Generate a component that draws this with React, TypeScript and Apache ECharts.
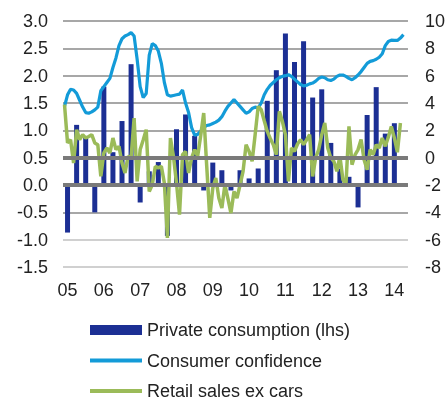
import React, { useEffect, useRef } from "react";
import * as echarts from "echarts";

// Monthly categories Jan 2005 .. Jun 2014
const START_YEAR = 2005;
const N_MONTHS = 114;
const months: string[] = [];
for (let i = 0; i < N_MONTHS; i++) {
  const y = START_YEAR + Math.floor(i / 12);
  const m = (i % 12) + 1;
  months.push(`${y}-${m < 10 ? "0" + m : m}`);
}

// Private consumption (lhs), quarterly 2005Q1 .. 2014Q1
const privateConsumption: number[] = [
  -0.87, 1.1, 0.86, -0.5, 1.8, 0.6, 1.17, 2.21, -0.32, 0.25, 0.42, -0.93,
  1.02, 1.29, 0.9, -0.1, 0.41, 0.27, -0.1, 0.27, 0.12, 0.3, 1.54, 2.1,
  2.77, 2.25, 2.63, 1.6, 1.75, 0.77, 0.3, 0.15, -0.41, 1.28, 1.79, 0.94, 1.13,
];

// Consumer confidence (rhs), monthly
const consumerConfidence: number[] = [
  3.75, 4.6, 5.0, 4.95, 4.7, 4.2, 3.7, 3.3, 3.25, 3.35, 3.5, 3.7,
  4.9, 5.2, 5.5, 5.8, 6.6, 7.3, 8.2, 8.7, 8.9, 9.0, 9.15, 8.9,
  7.2, 5.2, 4.4, 4.7, 7.5, 8.35, 8.2, 7.8, 6.9, 5.5, 4.6, 4.5,
  4.55, 4.6, 4.65, 4.95, 4.0, 3.3, 2.2, 1.65, 1.7, 1.95, 2.2, 2.35,
  2.4, 2.5, 2.6, 2.75, 3.0, 3.4, 3.75, 4.0, 4.25, 4.0, 3.75, 3.5,
  3.25, 3.35, 3.6, 3.7, 3.65, 4.0, 4.6, 5.0, 5.3, 5.5, 5.7, 5.85,
  5.95, 6.0, 6.07, 5.95, 5.75, 5.55, 5.35, 5.25, 5.3, 5.4, 5.46, 5.6,
  5.8, 5.9, 5.85, 5.7, 5.65, 5.75, 5.95, 6.05, 6.05, 5.95, 5.8, 5.7,
  5.85, 6.05, 6.3, 6.6, 6.9, 7.05, 7.1, 7.2, 7.35, 7.6, 8.2, 8.5,
  8.6, 8.58, 8.58, 8.75, 9.0,
];

// Retail sales ex cars (rhs), monthly
const retailSales: number[] = [
  3.88, 1.08, 1.32, -0.39, 2.05, 1.32, 1.68, 1.44, 1.55, 1.68, 1.08, 0.95,
  -1.37, 0.34, 0.71, 0.34, 1.44, 0.59, 0.83, -0.39, -1.12, 0.1, 0.0, 2.9,
  -1.73, 0.59, 1.3, 2.05, -2.47, -1.98, -0.64, -0.75, -0.64, -1.85, -5.87, 1.44,
  0.1, -1.85, -4.17, 0.22, 0.46, -1.12, -0.02, 0.59, 0.1, 1.6, 3.27, -0.64,
  -4.41, -2.22, -1.49, -2.95, -3.68, -1.98, -3.0, -4.05, -2.47, -2.95, -2.0, -1.0,
  0.95, 0.46, -0.27, 1.7, 3.75, 3.51, 2.7, 1.92, 1.4, 0.95, 0.22, 3.39,
  2.66, 1.68, -1.73, 0.71, 0.46, 1.0, 1.32, 0.95, 1.3, 1.68, -1.37, 0.0,
  0.59, 1.68, 2.54, 0.71, -0.02, -0.27, -1.0, 0.1, -1.61, -1.98, 2.29, -0.51,
  0.2, 0.59, 1.32, -0.15, -0.88, 0.59, 0.22, 0.95, 0.71, 1.44, 0.83, 1.5,
  2.29, 1.44, 0.4, 2.54,
];

const leftTicks = { min: -1.5, max: 3, interval: 0.5 };
const rightTicks = { min: -8, max: 10, interval: 2 };
const baseLines: number[] = [0, 0.5];

const FONT = "'Liberation Sans', Arial, sans-serif";
const LINE_ICON = "path://M0 0H52V4H0Z";

export default function App() {
  const ref = useRef<HTMLDivElement>(null);
  useEffect(() => {
    document.body.style.margin = "0";
    if (!ref.current) return;
    const chart = echarts.init(ref.current, undefined, { renderer: "svg" });

    const barMonthly: (number | null)[] = months.map(() => null);
    privateConsumption.forEach((v, q) => {
      barMonthly[q * 3 + 1] = v;
    });

    chart.setOption({
      animation: false,
      grid: { left: 63, right: 38, top: 21, bottom: 134, containLabel: false },
      legend: {
        orient: "vertical",
        left: 90,
        top: 321,
        height: 100,
        padding: 0,
        itemWidth: 52,
        itemHeight: 10,
        itemGap: 12.5,
        textStyle: { fontSize: 18, color: "#222", fontFamily: FONT },
        data: [
          { name: "Private consumption (lhs)", icon: "rect" },
          { name: "Consumer confidence", icon: LINE_ICON },
          { name: "Retail sales ex cars", icon: LINE_ICON },
        ],
      },
      xAxis: {
        type: "category",
        data: months,
        boundaryGap: true,
        axisLine: { show: false },
        axisTick: { show: false },
        splitLine: { show: false },
        axisLabel: {
          interval: (idx: number) => idx % 12 === 1,
          formatter: (v: string) => v.slice(2, 4),
          fontSize: 18,
          color: "#222",
          fontFamily: FONT,
          margin: 14,
        },
      },
      yAxis: [
        {
          type: "value",
          ...leftTicks,
          position: "left",
          axisLine: { show: false },
          axisTick: { show: false },
          axisLabel: {
            formatter: (v: number) => v.toFixed(1),
            fontSize: 18,
            color: "#222",
            fontFamily: FONT,
            margin: 15,
          },
          splitLine: {
            show: true,
            lineStyle: {
              width: 1.5,
              color: [
                "#c0c0c0",
                "#c0c0c0",
                "#8a8a8a",
                "#8a8a8a",
                "#8a8a8a",
                "#8a8a8a",
                "#8a8a8a",
                "#8a8a8a",
                "#8a8a8a",
                "#8a8a8a",
              ],
            },
          },
        },
        {
          type: "value",
          ...rightTicks,
          position: "right",
          axisLine: { show: false },
          axisTick: { show: false },
          splitLine: { show: false },
          axisLabel: {
            fontSize: 18,
            color: "#222",
            fontFamily: FONT,
            margin: 17,
          },
        },
      ],
      series: [
        {
          name: "base",
          type: "line",
          yAxisIndex: 0,
          z: 1,
          data: months.map(() => null),
          symbol: "none",
          silent: true,
          markLine: {
            silent: true,
            symbol: ["none", "none"],
            label: { show: false },
            lineStyle: { color: "#7a7a7a", width: 4, type: "solid" },
            data: baseLines.map((v) => ({ yAxis: v })),
          },
        },
        {
          name: "Private consumption (lhs)",
          type: "bar",
          yAxisIndex: 0,
          z: 2,
          data: barMonthly,
          barWidth: 5,
          itemStyle: { color: "#1c2f94" },
        },
        {
          name: "Consumer confidence",
          type: "line",
          yAxisIndex: 1,
          z: 3,
          data: consumerConfidence,
          symbol: "none",
          showSymbol: false,
          lineStyle: { color: "#139bd8", width: 3.2 },
          itemStyle: { color: "#139bd8" },
        },
        {
          name: "Retail sales ex cars",
          type: "line",
          yAxisIndex: 1,
          z: 4,
          data: retailSales,
          symbol: "none",
          showSymbol: false,
          lineStyle: { color: "#9bbb59", width: 3.5 },
          itemStyle: { color: "#9bbb59" },
        },
      ],
    });
    return () => chart.dispose();
  }, []);
  return (
    <div
      ref={ref}
      style={{ position: "fixed", left: 0, top: 0, width: 448, height: 401 }}
    />
  );
}
